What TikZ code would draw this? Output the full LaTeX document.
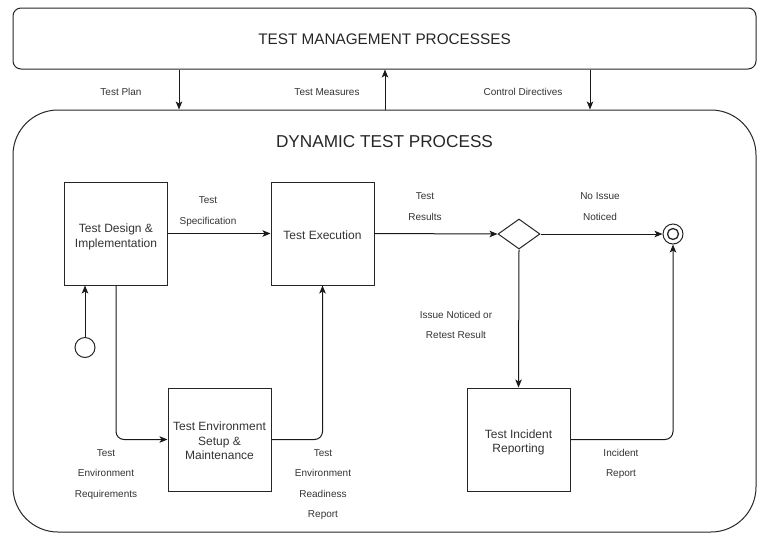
\documentclass[tikz,border=0pt]{standalone}
\usepackage{fontspec}
\setmainfont{Liberation Sans}
\usetikzlibrary{arrows.meta,shapes.geometric}
\begin{document}
\begin{tikzpicture}[x=1pt,y=-1pt,
  arr/.style={draw=black!90,line width=1pt,-{Stealth[length=8pt,width=6.5pt,inset=2pt]}},
  procbox/.style={draw=black!85,line width=1pt,minimum width=103pt,minimum height=103pt,inner sep=0pt},
  boxtext/.style={align=center,text=black!80,inner sep=0pt,font=\fontsize{12}{14.5}\selectfont},
  lbl/.style={align=center,text=black!80,inner sep=0pt,font=\fontsize{10}{20.5}\selectfont},
  bigbox/.style={draw=black!85,line width=1pt,inner sep=0pt,text=black!85}
]
\useasboundingbox (0,0) rectangle (768,539);
% outer frames
\node[bigbox,rounded corners=8pt,minimum width=743pt,minimum height=61pt] (top) at (384.5,38.5) {};
\node[text=black!85,font=\fontsize{15.3}{17}\selectfont] (toptitle) at (384.5,39.5) {TEST MANAGEMENT PROCESSES};
\node[bigbox,rounded corners=45pt,minimum width=743pt,minimum height=422pt] (big) at (384.5,321) {};
\node[text=black!85,font=\fontsize{17.2}{19}\selectfont] (bigtitle) at (384.5,141.5) {DYNAMIC TEST PROCESS};
% arrows between frames
\coordinate (xp) at (179,0);
\coordinate (xm) at (385,0);
\coordinate (xc) at (590,0);
\draw[arr] (top.south -| xp) -- (big.north -| xp);
\draw[arr] (big.north -| xm) -- (top.south -| xm);
\draw[arr] (top.south -| xc) -- (big.north -| xc);
\node[lbl] (lplan) at (121,92) {Test Plan};
\node[lbl] (lmeas) at (327,92) {Test Measures};
\node[lbl] (lctrl) at (523,92) {Control Directives};
% process boxes
\node[procbox,label={[boxtext,yshift=-3.5pt]center:Test Design \&\\Implementation}] (design) at (116,233.5) {};
\node[procbox,label={[boxtext,yshift=-2pt]center:Test Execution}] (exec) at (322.5,233.5) {};
\node[procbox,label={[boxtext,yshift=-1.5pt]center:Test Environment\\Setup \&\\Maintenance}] (env) at (219.5,439.5) {};
\node[procbox,label={[boxtext,yshift=-3pt]center:Test Incident\\Reporting}] (incident) at (518.5,439.5) {};
\node[diamond,draw=black!85,line width=1pt,minimum width=42pt,minimum height=30pt,inner sep=0pt] (dec) at (519,234) {};
\node[circle,draw=black!85,line width=1pt,minimum size=20pt,inner sep=0pt] (start) at (85,347.5) {};
\node[circle,draw=black!85,line width=1pt,minimum size=20pt,inner sep=0pt] (end) at (673,234) {};
\node[circle,draw=black!85,line width=1.3pt,minimum size=11pt,inner sep=0pt] (endin) at (673,234) {};
% connectors
\draw[arr] (start.north) -- (start.north |- design.south);
\draw[arr] (design.east) -- (exec.west);
\draw[arr] (exec.east) -- (dec.west);
\draw[arr] (dec.east) -- (end.west);
\draw[arr] (dec.south) -- (incident.north);
\draw[arr,rounded corners=8pt] (design.south) |- (env.west);
\draw[arr,rounded corners=8pt] (env.east) -| (exec.south);
\draw[arr,rounded corners=8pt] (incident.east) -| (end.south);
% labels
\node[lbl] (lspec) at (208,211.5) {Test\\Specification};
\node[lbl] (lres) at (425,206.5) {Test\\Results};
\node[lbl] (lno) at (600,206.5) {No Issue\\Noticed};
\node[lbl] (liss) at (456,325) {Issue Noticed or\\Retest Result};
\node[lbl] (lreq) at (106,474.5) {Test\\Environment\\Requirements};
\node[lbl] (lready) at (323,484.5) {Test\\Environment\\Readiness\\Report};
\node[lbl] (linc) at (621,464) {Incident\\Report};
\end{tikzpicture}
\end{document}
